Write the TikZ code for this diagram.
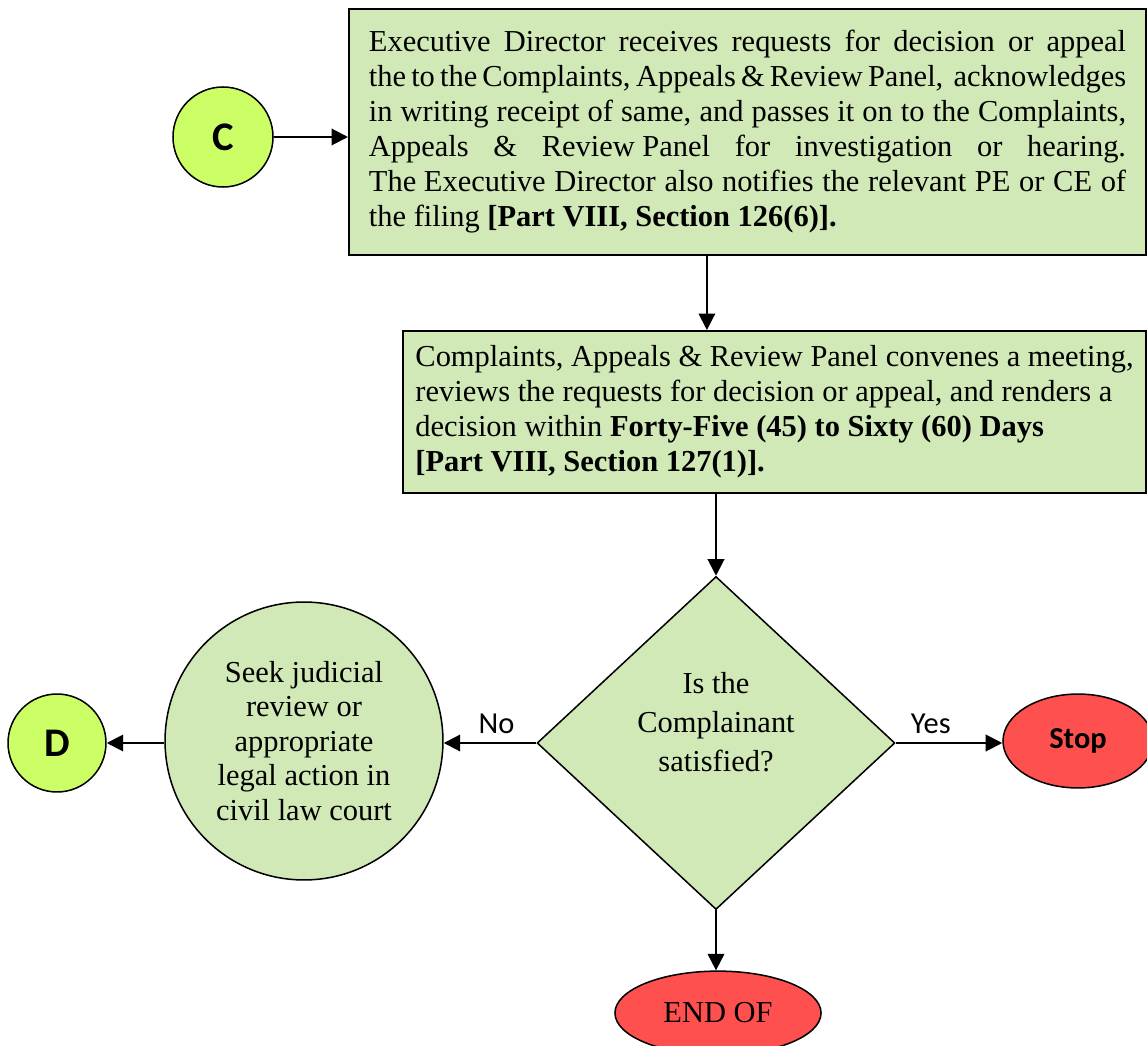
\documentclass[tikz,border=0pt]{standalone}
\usepackage{fontspec}
\setmainfont{Liberation Serif}
\newfontfamily\calibri{Carlito}
\usetikzlibrary{shapes.geometric,arrows.meta}
\definecolor{boxgreen}{RGB}{209,233,183}
\definecolor{lime}{RGB}{204,255,102}
\definecolor{stopred}{RGB}{255,80,80}
\tikzset{
	stepbox/.style={draw,rectangle,line width=0.8pt,fill=boxgreen,font=\fontsize{12}{13.8}\selectfont},
	connector/.style={draw,circle,line width=0.6pt,fill=lime,inner sep=0pt,font=\calibri\bfseries\fontsize{16}{19}\selectfont},
	terminal/.style={draw,ellipse,line width=0.6pt,fill=stopred,inner sep=0pt},
	arr/.style={line width=0.8pt,-{Triangle[length=6.5pt,width=6.5pt]}},
	answer/.style={font=\calibri\fontsize{12}{14}\selectfont}
}
\begin{document}
\begin{tikzpicture}[x=0.394pt,y=-0.394pt]
	\useasboundingbox (0,0) rectangle (1147,1046);
	\node[connector,minimum size=39.4pt] (C) at (223,137) {C};
	\node[stepbox,minimum width=314pt,minimum height=96.9pt,text width=298.3pt,inner xsep=7.85pt,align=justify] (receive) at (747.5,132)
		{Executive Director receives requests for decision or appeal\linebreak
		the to the Complaints, Appeals \& Review Panel,\ \ acknowledges\linebreak
		in writing receipt of same, and passes it on to the Complaints,\linebreak
		Appeals \& \mbox{Review Panel} for investigation or hearing.\linebreak
		\mbox{The Executive} Director also notifies the relevant PE or CE of\linebreak
		the filing \textbf{[Part VIII, Section 126(6)].}};
	\node[stepbox,minimum width=292.7pt,minimum height=63.8pt,align=left] (panel) at (774.5,412)
		{Complaints, Appeals \& Review Panel convenes a meeting,\\
		reviews the requests for decision or appeal, and renders a\\
		decision within \textbf{Forty-Five (45) to Sixty (60) Days}\\
		\textbf{[Part VIII, Section 127(1)].}};
	\node[draw,diamond,line width=0.6pt,fill=boxgreen,inner sep=0pt,minimum width=141pt,minimum height=131.2pt,
		label={[align=center,font=\fontsize{12}{15.4}\selectfont,yshift=8.3pt]center:Is the\\Complainant\\satisfied?}] (dec) at (716,743) {};
	\node[draw,circle,line width=0.6pt,fill=boxgreen,inner sep=0pt,minimum size=109.5pt,align=center,font=\fontsize{12}{13.6}\selectfont] (seek) at (304,741)
		{Seek judicial\\review or\\appropriate\\legal action in\\civil law court};
	\node[connector,minimum size=38.6pt] (D) at (57,743) {D};
	\node[terminal,minimum width=59.1pt,minimum height=37pt,font=\calibri\bfseries\fontsize{12}{14}\selectfont] (stop) at (1078,741) {Stop};
	\node[terminal,minimum width=81.2pt,minimum height=33pt,font=\fontsize{12}{14}\selectfont] (endof) at (718,1013) {END OF};

	\draw[arr] (C.east) -- (C.east -| receive.west);
	\draw[arr] ([xshift=-16pt]receive.south) -- ([xshift=-16pt]receive.south |- panel.north);
	\draw[arr] (panel.south -| dec.north) -- (dec.north);
	\draw[arr] (dec.west) -- node[answer,above,pos=0.43]{No} (dec.west -| seek.east);
	\draw[arr] (dec.east) -- node[answer,above,pos=0.33]{Yes} (dec.east -| stop.west);
	\draw[arr] (D.east -| seek.west) -- (D.east);
	\draw[arr] (dec.south) -- (dec.south |- endof.north);
\end{tikzpicture}
\end{document}
